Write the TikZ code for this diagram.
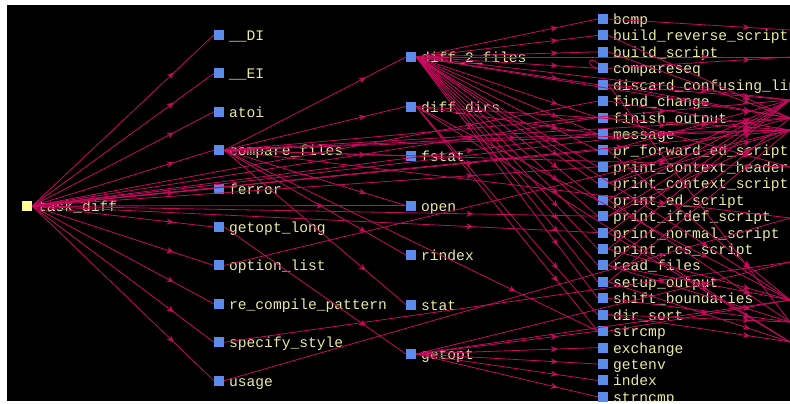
\documentclass[tikz,border=0pt]{standalone}
\usepackage{fontspec}
\newfontfamily\codefont{Liberation Mono}
\usetikzlibrary{arrows.meta,decorations.markings}
\definecolor{edgecol}{RGB}{200,10,95}
\definecolor{fnblue}{RGB}{92,140,235}
\definecolor{rootyellow}{RGB}{255,255,150}
\definecolor{labelcol}{RGB}{235,235,160}
\begin{document}
\begin{tikzpicture}[x=1pt,y=-1pt,
  fn/.style={rectangle,inner sep=0pt,minimum size=10pt,fill=fnblue},
  rootfn/.style={fn,fill=rootyellow},
  fname/.style={anchor=base west,inner sep=0pt,text=labelcol,
    font=\codefont\fontsize{14.6}{16}\selectfont},
  call/.style={draw=edgecol,line width=0.8pt,postaction={decorate},
    decoration={markings,mark=at position 0.78 with
      {\arrow[edgecol]{Stealth[length=7pt,width=6pt]}}}},
]
\useasboundingbox (0,0) rectangle (790,404);
\fill[white] (0,0) rectangle (790,404);
\fill[black] (7,5) rectangle (790,401);
\begin{scope}
\clip (7,5) rectangle (790,401);

% caller
\node[rootfn] (td) at (27,206) {};
\node[fname] (td-t) at ([xshift=11pt,yshift=-5.5pt]td.center) {task\_diff};

% first level
\foreach \n/\t [count=\k from 0] in {di/\_\_DI, ei/\_\_EI, atoi/atoi,
    cf/compare\_files, ferr/ferror, gol/getopt\_long, ol/option\_list,
    rcp/re\_compile\_pattern, ss/specify\_style, usg/usage}{
  \node[fn] (\n) at (219,{35+38.4*\k}) {};
  \node[fname] (\n-t) at ([xshift=10pt,yshift=-5.5pt]\n.center) {\t};
}

% second level
\foreach \n/\t [count=\k from 0] in {d2f/diff\_2\_files, dd/diff\_dirs,
    fst/fstat, opn/open, rix/rindex, st/stat, gop/getopt}{
  \node[fn] (\n) at (411,{57+49.5*\k}) {};
  \node[fname] (\n-t) at ([xshift=10pt,yshift=-5.5pt]\n.center) {\t};
}

% third level
\foreach \n/\t [count=\k from 0] in {bcmp/bcmp, brs/build\_reverse\_script,
    bs/build\_script, cseq/compareseq, dcl/discard\_confusing\_lines,
    fch/find\_change, fo/finish\_output, msg/message,
    pfe/pr\_forward\_ed\_script, pch/print\_context\_header,
    pcs/print\_context\_script, pes/print\_ed\_script,
    pis/print\_ifdef\_script, pns/print\_normal\_script,
    prs/print\_rcs\_script, rf/read\_files, so/setup\_output,
    sb/shift\_boundaries, ds/dir\_sort, scmp/strcmp, exch/exchange,
    genv/getenv, idx/index, sncmp/strncmp}{
  \node[fn] (\n) at (603,{19+16.43*\k}) {};
  \node[fname] (\n-t) at ([xshift=10pt,yshift=-5.5pt]\n.center) {\t};
}

% callees further right
\coordinate (oA) at (790,30);
\coordinate (oB) at (790,57);
\coordinate (oC) at (790,100);
\coordinate (oD) at (790,118);
\coordinate (oE) at (790,130);
\coordinate (oF) at (790,167);
\coordinate (oG) at (790,218);
\coordinate (oH) at (790,262);
\coordinate (oI) at (790,300);
\coordinate (oJ) at (790,322);
\coordinate (oK) at (790,342);

% calls between visible functions
\foreach \a/\b in {td/di, td/ei, td/atoi, td/cf, td/ferr, td/gol, td/ol,
    td/rcp, td/ss, td/usg, td/opn, td/fch, td/fo, td/msg, td/pfe, td/pch,
    td/pis, td/pns,
    cf/d2f, cf/dd, cf/fst, cf/opn, cf/st, cf/rix, cf/scmp, cf/msg,
    gol/gop,
    d2f/bcmp, d2f/brs, d2f/bs, d2f/cseq, d2f/dcl, d2f/fo, d2f/pfe, d2f/pch,
    d2f/pcs, d2f/pes, d2f/pis, d2f/pns, d2f/prs, d2f/rf, d2f/so, d2f/sb,
    d2f/msg,
    dd/ds, dd/msg, dd/scmp,
    gop/scmp, gop/exch, gop/genv, gop/idx, gop/sncmp}{
  \draw[call] (\a.east) -- (\b.west);
}

% calls leaving the visible area
\foreach \a/\b in {td/oD, td/oE, cf/oC, cf/oD, cf/oE, cf/oF, cf/oG, ol/oE,
    ss/oH, usg/oG, d2f/oB, d2f/oC, d2f/oD, d2f/oI, dd/oE, dd/oI, dd/oK,
    gop/oI, gop/oH,
    bs/oD, brs/oD, dcl/oC, dcl/oD, dcl/oJ, cseq/oB, fch/oE, fo/oF,
    msg/oE, pfe/oC, pfe/oI, pch/oD, pcs/oC, pcs/oE, pes/oC, pes/oJ,
    pis/oC, pis/oE, pns/oC, pns/oK, prs/oC, prs/oI, rf/oI, rf/oJ,
    rf/oD, so/oK, so/oE, sb/oJ, ds/oK, ds/oJ, bcmp/oA, scmp/oI}{
  \draw[call] (\a.east) -- (\b);
}

% recursive call of compareseq
\draw[edgecol,line width=0.8pt] (cseq.west)
  .. controls ([xshift=-12pt,yshift=2pt]cseq.west)
  and ([xshift=-10pt,yshift=8pt]cseq.north west) .. (cseq.north west);
\end{scope}
\end{tikzpicture}
\end{document}
